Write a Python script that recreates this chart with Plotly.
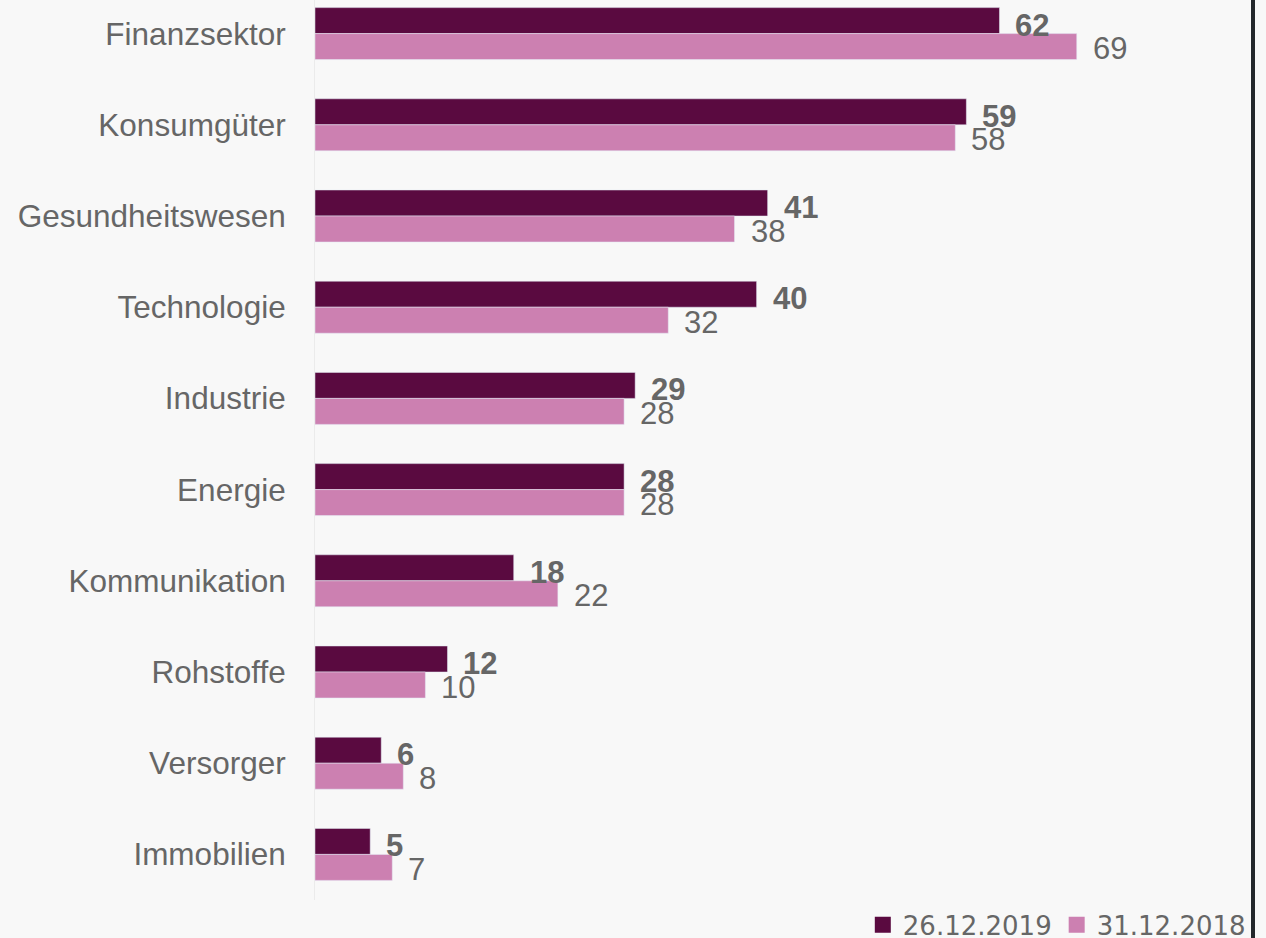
import plotly.graph_objects as go

categories = ["Finanzsektor", "Konsumgüter", "Gesundheitswesen", "Technologie", "Industrie",
              "Energie", "Kommunikation", "Rohstoffe", "Versorger", "Immobilien"]
values_2019 = [62, 59, 41, 40, 29, 28, 18, 12, 6, 5]
values_2018 = [69, 58, 38, 32, 28, 28, 22, 10, 8, 7]
series_names = ["26.12.2019", "31.12.2018"]

DARK = "#5a0a40"
LIGHT = "#cc80b1"
TEXT = "#666666"
BG = "#f8f8f8"

W, H = 1266, 938
ML, MR, MT, MB = 315, 26, 0, 38
px_per_unit = 11.04
xmax = (W - ML - MR) / px_per_unit

fig = go.Figure()
fig.add_trace(go.Bar(y=categories, x=values_2019, orientation="h", name=series_names[0],
                     marker=dict(color=DARK), showlegend=False, hoverinfo="x+y"))
fig.add_trace(go.Bar(y=categories, x=values_2018, orientation="h", name=series_names[1],
                     marker=dict(color=LIGHT), showlegend=False, hoverinfo="x+y"))
# legend proxies
fig.add_trace(go.Scatter(x=[None], y=[None], mode="markers", name=series_names[0],
                         marker=dict(symbol="square", size=16, color=DARK)))
fig.add_trace(go.Scatter(x=[None], y=[None], mode="markers", name=series_names[1],
                         marker=dict(symbol="square", size=16, color=LIGHT)))

annotations = []
for c, v in zip(categories, values_2019):
    annotations.append(dict(x=v, y=c, xref="x", yref="y", text=f"<b>{v}</b>", showarrow=False,
                            xanchor="left", yanchor="middle", xshift=14, yshift=8.5,
                            font=dict(family="Liberation Sans, Arial", size=31, color=TEXT)))
for c, v in zip(categories, values_2018):
    annotations.append(dict(x=v, y=c, xref="x", yref="y", text=str(v), showarrow=False,
                            xanchor="left", yanchor="middle", xshift=14, yshift=-15,
                            font=dict(family="Liberation Sans, Arial", size=31, color=TEXT)))

plot_h = H - MT - MB
fig.update_layout(
    width=W, height=H,
    margin=dict(l=ML, r=MR, t=MT, b=MB, pad=0),
    paper_bgcolor=BG, plot_bgcolor=BG,
    barmode="group", bargap=0.43, bargroupgap=0,
    xaxis=dict(visible=False, range=[0, xmax], fixedrange=True),
    yaxis=dict(type="category", range=[9.5, 9.5 - plot_h / 91.2], showgrid=False,
               showline=True, linecolor="#ebebeb", linewidth=1, ticks="",
               ticklabelstandoff=22, zeroline=False,
               tickfont=dict(family="Liberation Sans, Arial", size=31.5, color=TEXT)),
    showlegend=True,
    legend=dict(orientation="h", xref="container", yref="container", x=0.988, xanchor="right",
                y=0.014, yanchor="middle", bgcolor="rgba(0,0,0,0)",
                font=dict(family="DejaVu Sans, Verdana", size=26, color=TEXT),
                itemclick=False, itemdoubleclick=False),
    annotations=annotations,
    shapes=[dict(type="rect", xref="paper", yref="paper",
                 x0=(1251 - ML) / (W - ML - MR), x1=(1255 - ML) / (W - ML - MR),
                 y0=-MB / plot_h, y1=1.0, fillcolor="#23272b", line=dict(width=0), layer="above")],
)

fig.write_html("out.html", post_script="document.body.style.margin='0';",
               config={"displayModeBar": False})
